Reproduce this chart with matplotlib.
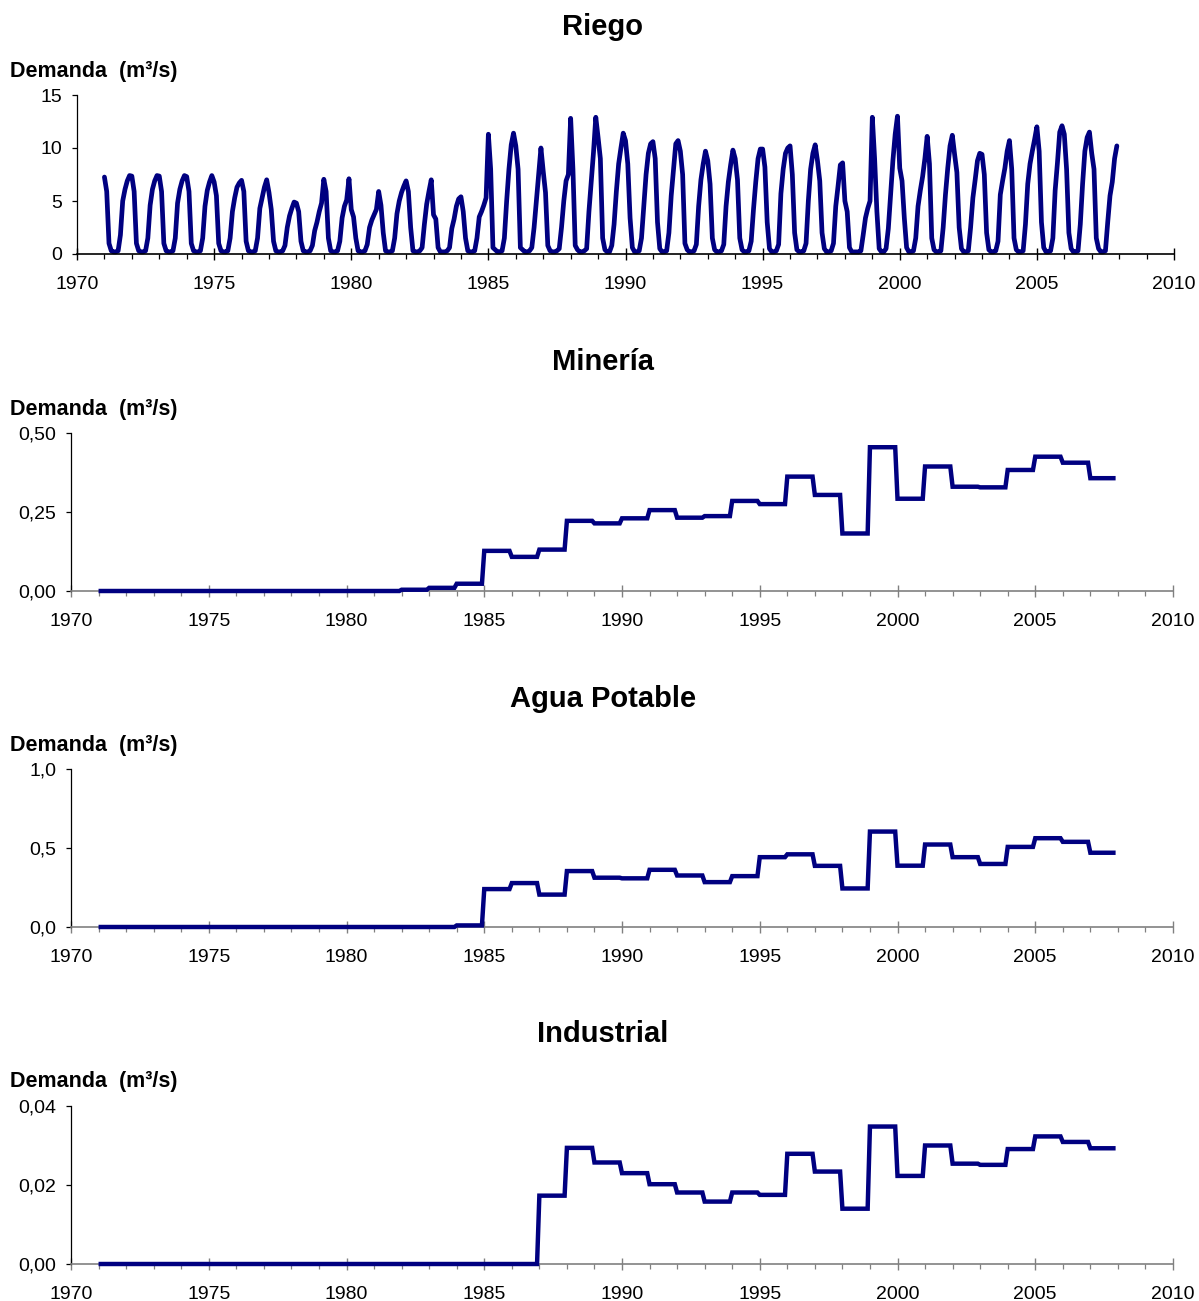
import numpy as np
import matplotlib
matplotlib.use("Agg")
import matplotlib.pyplot as plt
from matplotlib.ticker import MultipleLocator, FixedLocator, FixedFormatter

plt.rcParams['font.family'] = ['Liberation Sans', 'DejaVu Sans']

# ---------------- data ----------------
years = list(range(1971, 2008))  # annual series 1971..2007

# Riego: monthly demand (Jan..Dec) for each year 1971..2007, m3/s
riego = [
    [7.26, 5.9, 1.0, 0.3, 0.2, 0.2, 0.3, 1.8, 5.0, 6.1, 6.9, 7.4],   # 1971
    [7.35, 5.9, 1.0, 0.3, 0.2, 0.2, 0.3, 1.5, 4.6, 6.1, 6.9, 7.4],   # 1972
    [7.35, 5.9, 1.0, 0.3, 0.2, 0.2, 0.3, 1.5, 4.8, 6.1, 6.9, 7.4],   # 1973
    [7.3, 5.9, 1.0, 0.3, 0.2, 0.2, 0.3, 1.5, 4.5, 6.0, 6.8, 7.4],    # 1974
    [6.8, 5.5, 1.0, 0.3, 0.2, 0.2, 0.3, 1.5, 4.0, 5.3, 6.3, 6.7],    # 1975
    [6.95, 5.9, 1.2, 0.3, 0.2, 0.2, 0.3, 1.5, 4.3, 5.3, 6.3, 7.0],   # 1976
    [5.8, 4.2, 1.2, 0.3, 0.2, 0.2, 0.3, 0.8, 2.5, 3.6, 4.3, 4.9],    # 1977
    [4.8, 4.0, 1.2, 0.3, 0.2, 0.2, 0.3, 0.8, 2.2, 3.0, 4.0, 4.8],    # 1978
    [7.05, 5.9, 1.5, 0.3, 0.2, 0.2, 0.3, 1.2, 3.4, 4.5, 5.1, 7.1],   # 1979
    [4.2, 3.5, 1.5, 0.3, 0.2, 0.2, 0.3, 0.9, 2.5, 3.2, 3.7, 4.2],    # 1980
    [5.9, 4.6, 2.0, 0.3, 0.2, 0.2, 0.3, 1.5, 3.8, 5.0, 5.8, 6.4],    # 1981
    [6.9, 5.9, 2.5, 0.3, 0.2, 0.2, 0.3, 0.6, 2.8, 4.7, 5.9, 7.0],    # 1982
    [3.7, 3.3, 0.6, 0.2, 0.2, 0.2, 0.3, 0.6, 2.4, 3.3, 4.5, 5.2],    # 1983
    [5.4, 4.0, 1.5, 0.3, 0.2, 0.2, 0.3, 1.5, 3.5, 4.0, 4.6, 5.3],    # 1984
    [11.3, 8.0, 0.6, 0.4, 0.2, 0.2, 0.3, 1.5, 5.0, 8.0, 10.3, 11.4], # 1985
    [10.2, 8.0, 0.6, 0.4, 0.2, 0.2, 0.3, 0.6, 2.5, 5.0, 7.5, 10.0],  # 1986
    [7.8, 5.8, 0.8, 0.3, 0.2, 0.2, 0.3, 0.5, 2.5, 5.0, 6.9, 7.5],    # 1987
    [12.8, 8.0, 0.8, 0.4, 0.2, 0.2, 0.3, 0.5, 4.0, 6.8, 9.6, 12.9],  # 1988
    [11.0, 9.0, 1.5, 0.4, 0.2, 0.2, 0.8, 2.8, 5.9, 8.5, 10.0, 11.4], # 1989
    [10.7, 8.5, 3.4, 0.6, 0.2, 0.2, 0.3, 1.5, 4.5, 7.5, 9.5, 10.4],  # 1990
    [10.6, 9.0, 3.0, 0.5, 0.2, 0.2, 0.3, 2.0, 5.5, 8.0, 10.4, 10.7], # 1991
    [9.7, 7.5, 1.0, 0.4, 0.2, 0.2, 0.3, 0.9, 4.5, 7.0, 8.5, 9.7],    # 1992
    [8.8, 6.6, 1.5, 0.4, 0.2, 0.2, 0.3, 0.9, 4.5, 6.8, 8.4, 9.8],    # 1993
    [9.0, 7.0, 1.5, 0.4, 0.2, 0.2, 0.3, 1.2, 4.2, 6.8, 9.0, 9.9],    # 1994
    [9.9, 8.2, 3.0, 0.5, 0.2, 0.2, 0.3, 0.9, 5.7, 8.0, 9.5, 10.0],   # 1995
    [10.2, 7.5, 2.0, 0.4, 0.2, 0.2, 0.3, 1.0, 5.0, 8.0, 9.5, 10.3],  # 1996
    [8.8, 6.9, 2.0, 0.5, 0.2, 0.2, 0.3, 1.0, 4.5, 6.4, 8.4, 8.6],    # 1997
    [5.0, 4.0, 0.6, 0.2, 0.2, 0.2, 0.2, 0.3, 1.8, 3.4, 4.3, 5.0],    # 1998
    [12.9, 9.0, 4.0, 0.5, 0.2, 0.2, 0.5, 2.4, 5.6, 8.8, 11.3, 13.0], # 1999
    [8.1, 6.9, 3.4, 0.6, 0.2, 0.2, 0.3, 1.5, 4.5, 6.0, 7.3, 9.0],    # 2000
    [11.1, 8.5, 1.5, 0.4, 0.2, 0.2, 0.3, 2.5, 5.6, 8.1, 10.2, 11.2], # 2001
    [9.4, 7.7, 2.5, 0.5, 0.2, 0.2, 0.3, 2.5, 5.3, 7.0, 8.8, 9.5],    # 2002
    [9.4, 7.5, 2.0, 0.4, 0.2, 0.2, 0.3, 1.2, 5.6, 6.9, 8.1, 9.7],    # 2003
    [10.7, 8.0, 1.5, 0.4, 0.2, 0.2, 0.3, 2.8, 6.6, 8.5, 9.7, 10.8],  # 2004
    [12.0, 9.7, 3.0, 0.6, 0.2, 0.2, 0.3, 1.5, 6.0, 8.6, 11.5, 12.1], # 2005
    [11.3, 8.0, 2.0, 0.5, 0.2, 0.2, 0.3, 2.8, 6.6, 9.7, 11.0, 11.5], # 2006
    [9.5, 8.0, 1.5, 0.5, 0.2, 0.2, 0.3, 3.0, 5.5, 6.8, 9.0, 10.2],   # 2007
]

mineria = [0.0] * 11 + [
    0.004, 0.010, 0.023, 0.127, 0.108, 0.131, 0.222, 0.214, 0.230, 0.256,
    0.232, 0.237, 0.285, 0.275, 0.362, 0.304, 0.182, 0.455, 0.292, 0.394,
    0.330, 0.328, 0.383, 0.425, 0.406, 0.357]

agua_potable = [0.0] * 13 + [
    0.010, 0.240, 0.278, 0.205, 0.354, 0.312, 0.308, 0.362, 0.326, 0.284,
    0.322, 0.442, 0.460, 0.387, 0.244, 0.604, 0.388, 0.522, 0.442, 0.399,
    0.507, 0.562, 0.539, 0.470]

industrial = [0.0] * 16 + [
    0.0173, 0.0294, 0.0257, 0.0230, 0.0202, 0.0181, 0.0158, 0.0181, 0.0175,
    0.0279, 0.0234, 0.0140, 0.0348, 0.0223, 0.0300, 0.0254, 0.0251, 0.0291,
    0.0323, 0.0309, 0.0293]

titles = ["Riego", "Minería", "Agua Potable", "Industrial"]
ylabel_text = "Demanda  (m³/s)"
xticks = [1970, 1975, 1980, 1985, 1990, 1995, 2000, 2005, 2010]

riego_yticks = [0, 5, 10, 15]
riego_ylabels = ["0", "5", "10", "15"]
mineria_yticks = [0.0, 0.25, 0.50]
mineria_ylabels = ["0,00", "0,25", "0,50"]
agua_yticks = [0.0, 0.5, 1.0]
agua_ylabels = ["0,0", "0,5", "1,0"]
industrial_yticks = [0.0, 0.02, 0.04]
industrial_ylabels = ["0,00", "0,02", "0,04"]

# ---------------- figure ----------------
W, H = 1199, 1301
fig = plt.figure(figsize=(W / 100, H / 100), dpi=100)
navy = "#000080"


def add_ax(l, r, t, b):
    return fig.add_axes([l / W, 1 - b / H, (r - l) / W, (b - t) / H])


def style(ax, yticks, ylabels, bottom_color):
    ax.set_xlim(1970, 2010)
    ax.set_ylim(yticks[0], yticks[-1])
    for s in ("top", "right"):
        ax.spines[s].set_visible(False)
    ax.spines["left"].set_color("black")
    ax.spines["left"].set_linewidth(0.9)
    ax.spines["bottom"].set_color(bottom_color)
    ax.spines["bottom"].set_linewidth(1.2)
    ax.xaxis.set_major_locator(FixedLocator(xticks))
    ax.xaxis.set_minor_locator(MultipleLocator(1))
    ax.yaxis.set_major_locator(FixedLocator(yticks))
    ax.yaxis.set_major_formatter(FixedFormatter(ylabels))
    ax.tick_params(axis="x", which="major", direction="inout", length=8,
                   width=1.0, color=bottom_color, pad=11.5, labelsize=14)
    ax.tick_params(axis="x", which="minor", direction="out", length=3.5,
                   width=0.9, color=bottom_color)
    ax.tick_params(axis="y", which="major", direction="out", length=3.5,
                   width=0.9, color="black", pad=7, labelsize=14)
    ax.set_facecolor("none")


# Riego
ax1 = add_ax(77, 1174, 95, 254)
t_month = np.array([y + m / 12 for y in years for m in range(12)])
v_month = np.array(riego).ravel()
ax1.plot(t_month, v_month, color=navy, lw=3.4, solid_joinstyle="round",
         solid_capstyle="round", clip_on=False)
style(ax1, riego_yticks, riego_ylabels, "black")


def step_xy(vals):
    yrs = np.array(years, dtype=float)
    x = np.column_stack([yrs, yrs + 11 / 12]).ravel()
    y = np.repeat(np.array(vals), 2)
    return x, y


panels = [
    (mineria, mineria_yticks, mineria_ylabels, 433, 591),
    (agua_potable, agua_yticks, agua_ylabels, 769, 927),
    (industrial, industrial_yticks, industrial_ylabels, 1106, 1264),
]
axes = [ax1]
for vals, yt, yl, top, bot in panels:
    ax = add_ax(71, 1173, top, bot)
    x, y = step_xy(vals)
    ax.plot(x, y, color=navy, lw=3.2, solid_joinstyle="miter",
            solid_capstyle="butt", clip_on=False, zorder=3)
    style(ax, yt, yl, "#808080")
    axes.append(ax)

title_y = [27, 362, 699, 1034]
label_y = [72, 409, 745, 1082]
for t, ty, ly in zip(titles, title_y, label_y):
    fig.text(603 / W, 1 - ty / H, t, ha="center", va="center",
             fontsize=21, fontweight="bold")
    fig.text(10 / W, 1 - ly / H, ylabel_text, ha="left", va="center",
             fontsize=15.5, fontweight="bold")

fig.savefig("out.png", dpi=100)
